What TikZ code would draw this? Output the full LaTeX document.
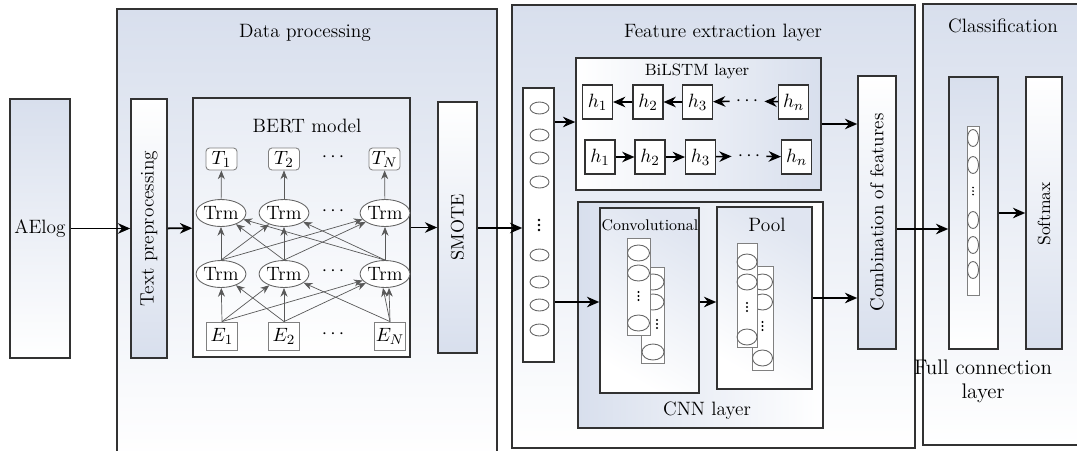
\documentclass[tikz,border=0pt]{standalone}
\usepackage{fontspec}
\usepackage{tikz}
\usetikzlibrary{arrows.meta, calc, shapes.geometric}

\definecolor{panelblue}{RGB}{216,223,237}
\definecolor{edgegray}{RGB}{50,50,50}

\tikzset{
	every node/.style = {font=\fontsize{11}{13}\selectfont},
	panel/.style = {draw=edgegray, line width=0.9pt, rectangle, top color=panelblue, bottom color=white, inner sep=0pt},
	block/.style = {draw=edgegray, line width=0.9pt, rectangle, inner sep=0pt},
	cell/.style = {draw=edgegray, line width=0.6pt, rectangle, fill=white, minimum width=0.6cm, minimum height=0.68cm, inner sep=0pt},
	tok/.style = {draw=gray, line width=0.5pt, rectangle, fill=white, minimum width=0.62cm, inner sep=0pt},
	trm/.style = {draw=gray!80!black, line width=0.5pt, ellipse, fill=white, minimum width=0.88cm, minimum height=0.54cm, inner sep=0pt},
	unit/.style = {draw=gray!80!black, line width=0.5pt, ellipse, minimum width=#1, inner sep=0pt},
	vdot/.pic = {\foreach \d in {-5, 0, 5} \fill (0, \d) circle (0.8pt);},
	arr/.style = {-{Stealth[length=7pt, width=6pt]}, line width=1pt},
	thin/.style = {-{Stealth[length=5pt, width=4pt]}, line width=0.4pt, draw=gray!70!black}
}

\begin{document}
\begin{tikzpicture} [x = 0.02cm, y = -0.02cm]

	\useasboundingbox (0, 0) rectangle (1077, 450);

% Draw panels.

	%data processing
	\node [panel, minimum width=7.6cm, minimum height=9.02cm] (dataPanel) at (307, 234.5) {};
	\node (dataTitle) at (305, 33) {Data processing};

	%feature extraction
	\node [panel, minimum width=8.06cm, minimum height=8.86cm] (featPanel) at (713.5, 226.5) {};
	\node (featTitle) at (723, 33) {Feature extraction layer};

	%classification
	\node [panel, minimum width=3.34cm, minimum height=8.82cm] (classPanel) at (1006.5, 224.5) {};
	\node (classTitle) at (1003, 26) {Classification};

% Draw blocks.

	\node [block, top color=panelblue, bottom color=white, minimum width=1.2cm, minimum height=5.18cm] (AElog) at (40, 228.5) {AElog};

	\node [block, top color=white, bottom color=panelblue, minimum width=0.72cm, minimum height=5.18cm] (textPre) at (149, 228.5) {};
	\node [rotate=90] (textPreLabel) at (textPre) {Text preprocessing};

	\node [block, top color=panelblue!60, bottom color=white, minimum width=4.34cm, minimum height=5.18cm] (BERT) at (301.5, 227.5) {};
	\node (BERTLabel) at (307, 126) {BERT model};

	\node [block, top color=white, bottom color=panelblue, minimum width=0.78cm, minimum height=5.02cm] (SMOTE) at (457.5, 227.5) {};
	\node [rotate=90, font=\fontsize{10.3}{12}\selectfont] (SMOTELabel) at (SMOTE) {SMOTE};

	%input vector
	\node [block, fill=white, minimum width=0.62cm, minimum height=5.48cm] (vec) at (538.5, 225) {};
	\foreach \y in {108, 135, 158, 182, 255, 282, 305, 330}
		\node [unit=0.38cm, minimum height=0.24cm] at (539.5, \y) {};
	\pic at (539, 225) {vdot};

	%bilstm
	\node [block, left color=white, right color=panelblue, minimum width=4.9cm, minimum height=2.64cm] (BiLSTM) at (698.5, 124) {};
	\node [font=\fontsize{9.3}{11}\selectfont] (BiLSTMLabel) at (697, 71) {BiLSTM layer};

	%cnn
	\node [block, left color=panelblue, right color=white, minimum width=4.9cm, minimum height=4.52cm] (CNN) at (700.5, 315) {};
	\node (CNNLabel) at (707, 411) {CNN layer};

	\node [block, top color=panelblue!80, bottom color=white, shading angle=-30, minimum width=1.98cm, minimum height=3.7cm] (conv) at (649.5, 300.5) {};
	\node [inner sep=0pt, font=\fontsize{8.8}{10}\selectfont] (convLabel) at (650, 225) {Convolutional};

	\node [block, top color=panelblue!80, bottom color=white, shading angle=-30, minimum width=1.9cm, minimum height=3.64cm] (pool) at (764.5, 298) {};
	\node (poolLabel) at (767, 225) {Pool};

	\node [block, top color=white, bottom color=panelblue, minimum width=0.76cm, minimum height=5.46cm] (comb) at (877, 212.5) {};
	\node [rotate=90, font=\fontsize{10.7}{13}\selectfont] (combLabel) at (comb) {Combination of features};

	%classification blocks
	\node [block, top color=panelblue, bottom color=white, minimum width=0.98cm, minimum height=5.44cm] (FC) at (973.5, 213) {};
	\node [align=center, font=\fontsize{12}{13.5}\selectfont] (FCLabel) at (983, 381) {Full connection\\layer};

	\node [draw=gray, line width=0.5pt, fill=white, minimum width=0.24cm, minimum height=3.38cm, inner sep=0pt] (FCcol) at (973, 210.5) {};
	\foreach \y in {138, 165, 220, 245, 270}
		\node [unit=0.22cm, minimum height=0.34cm] at (973, \y) {};
	\pic [scale=0.7] at (973, 191) {vdot};

	\node [block, top color=white, bottom color=panelblue, minimum width=0.72cm, minimum height=5.44cm] (softmax) at (1044, 213) {};
	\node [rotate=90, font=\fontsize{10}{12}\selectfont] (softmaxLabel) at (1044, 214) {Softmax};

% Draw BERT model.

	%outputs
	\node [tok, rounded corners=2pt, minimum height=0.44cm] (T1) at (221.5, 159) {$T_1$};
	\node [tok, rounded corners=2pt, minimum height=0.44cm] (T2) at (284, 159) {$T_2$};
	\node [tok, rounded corners=2pt, minimum height=0.44cm] (TN) at (384.5, 159) {$T_N$};

	%transformer layers
	\node [trm] (A1) at (221, 213) {Trm};
	\node [trm] (A2) at (284, 213) {Trm};
	\node [trm] (A3) at (385, 213) {Trm};
	\node [trm] (B1) at (221, 274) {Trm};
	\node [trm] (B2) at (284, 274) {Trm};
	\node [trm] (B3) at (385, 274) {Trm};

	%inputs
	\node [tok, minimum height=0.56cm] (E1) at (222, 336) {$E_1$};
	\node [tok, minimum height=0.56cm] (E2) at (284, 336) {$E_2$};
	\node [tok, minimum height=0.56cm] (EN) at (390, 336) {$E_N$};

	\foreach \y in {157, 211, 271, 334}
		\node at (333, \y) {$\cdots$};

	\draw [thin] (A1) -- (T1);
	\draw [thin] (A2) -- (T2);
	\draw [thin] (A3) -- (TN);

	\foreach \b in {B1, B2, B3}
		\foreach \a in {A1, A2, A3}
			\draw [thin] (\b.north) -- (\a);

	\foreach \e in {E1, E2}
		\foreach \b in {B1, B2, B3}
			\draw [thin] (\e.north) -- (\b);
	\draw [thin] (EN.north) -- (B2);
	\draw [thin] (EN.north) -- ($(B3.south) + (-2, 0)$);
	\draw [thin] (EN.north) -- ($(B3.south) + (4, 0)$);

% Draw BiLSTM cells.

	\node [cell] (b1) at (597.5, 102) {$h_1$};
	\node [cell] (b2) at (648, 102) {$h_2$};
	\node [cell] (b3) at (697.5, 102) {$h_3$};
	\node (bDots) at (747, 101) {$\cdots$};
	\node [cell] (bn) at (793.5, 102) {$h_n$};

	\node [cell] (f1) at (600, 157) {$h_1$};
	\node [cell] (f2) at (650, 157) {$h_2$};
	\node [cell] (f3) at (700.5, 157) {$h_3$};
	\node (fDots) at (749, 156) {$\cdots$};
	\node [cell] (fn) at (796.5, 157) {$h_n$};

	\draw [arr, line width=0.9pt] (b2) -- (b1);
	\draw [arr, line width=0.9pt] (b3) -- (b2);
	\draw [arr, line width=0.9pt] (bDots) -- (b3);
	\draw [arr, line width=0.9pt] (bn) -- (bDots);

	\draw [arr, line width=0.9pt] (f1) -- (f2);
	\draw [arr, line width=0.9pt] (f2) -- (f3);
	\draw [arr, line width=0.9pt] (f3) -- (fDots);
	\draw [arr, line width=0.9pt] (fDots) -- (fn);

% Draw CNN feature maps.

	%convolutional maps
	\node [draw=gray, line width=0.5pt, fill=white, minimum width=0.46cm, minimum height=1.92cm, inner sep=0pt] (convB) at (652.5, 315) {};
	\foreach \y in {282, 302, 352}
		\node [unit=0.44cm, minimum height=0.32cm] at (653, \y) {};
	\pic [scale=0.8] at (657, 324) {vdot};
	\node [draw=gray, line width=0.5pt, fill=white, minimum width=0.46cm, minimum height=1.94cm, inner sep=0pt] (convA) at (638.5, 286.5) {};
	\foreach \y in {253, 273, 323}
		\node [unit=0.44cm, minimum height=0.32cm] at (638.5, \y) {};
	\pic [scale=0.8] at (638.5, 296) {vdot};

	%pooled maps
	\node [draw=gray, line width=0.5pt, fill=white, minimum width=0.42cm, minimum height=2.08cm, inner sep=0pt] (poolB) at (762.5, 318) {};
	\foreach \y in {282, 302, 358}
		\node [unit=0.4cm, minimum height=0.32cm] at (762.5, \y) {};
	\pic [scale=0.8] at (762.5, 326) {vdot};
	\node [draw=gray, line width=0.5pt, fill=white, minimum width=0.4cm, minimum height=2.08cm, inner sep=0pt] (poolA) at (747, 295) {};
	\foreach \y in {262, 282, 337}
		\node [unit=0.4cm, minimum height=0.32cm] at (747, \y) {};
	\pic [scale=0.8] at (747, 307) {vdot};

% Draw main arrows.

	\draw [arr] (AElog) -- (textPre);
	\draw [arr] (textPre) -- (BERT);
	\draw [arr] (BERT) -- (SMOTE);
	\draw [arr] (SMOTE.east |- 0, 228) -- (vec.west |- 0, 228);

	\draw [arr] (vec.east |- 0, 122) -- (BiLSTM.west |- 0, 122);
	\draw [arr] (vec.east |- 0, 302) -- (conv.west |- 0, 302);
	\draw [arr] (conv.east |- 0, 302) -- (pool.west |- 0, 302);

	\draw [arr] (BiLSTM.east) -- (comb.west |- BiLSTM.east);
	\draw [arr] (pool.east) -- (comb.west |- pool.east);

	\draw [arr] (comb.east |- 0, 229) -- (FC.west |- 0, 229);
	\draw [arr] (FC.east) -- (softmax.west);

\end{tikzpicture}
\end{document}
